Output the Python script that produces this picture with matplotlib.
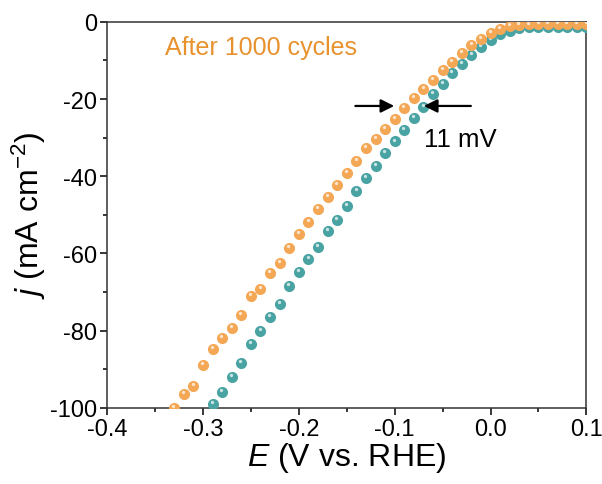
import numpy as np
import matplotlib
matplotlib.use('Agg')
from matplotlib import pyplot as plt
from matplotlib.transforms import offset_copy
from matplotlib.ticker import MultipleLocator

# potentials (V vs. RHE)
e_after = np.round(np.arange(-0.33, 0.101, 0.01), 2)
e_before = np.round(np.arange(-0.29, 0.101, 0.01), 2)

# current densities (mA cm-2)
j_after = [-100.1, -96.4, -94.4, -89.0, -84.7, -81.9, -79.3, -75.9, -71.1, -69.2,
           -65.1, -62.4, -58.6, -54.9, -51.9, -48.4, -45.4, -42.2, -39.2, -36.0,
           -32.7, -30.3, -27.7, -25.1, -22.4, -19.8, -17.4, -15.0, -12.4, -10.3,
           -8.1, -6.1, -4.4, -2.9, -1.8, -1.2, -0.8, -0.7, -0.6, -0.6,
           -0.6, -0.6, -0.6, -0.6]
j_before = [-99.0, -95.9, -91.9, -88.4, -83.4, -80.2, -76.5, -73.1, -68.5, -64.7,
            -61.4, -58.3, -54.3, -51.3, -47.7, -43.8, -40.5, -37.3, -34.0, -31.0,
            -27.9, -24.9, -22.1, -18.7, -16.1, -13.2, -10.9, -8.7, -6.5, -4.7,
            -3.1, -2.3, -1.6, -1.4, -1.3, -1.3, -1.3, -1.3, -1.3, -1.3]

plt.rcParams['font.family'] = ['Liberation Sans', 'DejaVu Sans']
plt.rcParams['axes.unicode_minus'] = False
plt.rcParams['mathtext.fontset'] = 'custom'
plt.rcParams['mathtext.rm'] = 'Liberation Sans'
plt.rcParams['mathtext.it'] = 'Liberation Sans:italic'

fig = plt.figure(figsize=(6.02, 4.85), dpi=100)
ax = fig.add_axes([0.178, 0.157, 0.796, 0.796])

orange = '#F4A755'
teal = '#4AA3A3'

def balls(x, y, color, z):
    ax.plot(x, y, 'o', ms=8, color=color, mec='none', zorder=z)
    # small highlight to mimic the shaded spheres
    tr = offset_copy(ax.transData, fig=fig, x=-0.6, y=1.4, units='points')
    ax.plot(x, y, 'o', ms=2.4, color='white', alpha=0.7, mec='none',
            transform=tr, zorder=z + 0.1)

balls(e_before, j_before, teal, 3)
balls(e_after, j_after, orange, 4)

ax.set_xlim(-0.4, 0.1)
ax.set_ylim(-100, 0)
ax.xaxis.set_major_locator(MultipleLocator(0.1))
ax.xaxis.set_minor_locator(MultipleLocator(0.05))
ax.yaxis.set_major_locator(MultipleLocator(20))
ax.yaxis.set_minor_locator(MultipleLocator(10))
ax.tick_params(which='major', direction='out', length=5, width=1.1, labelsize=17,
               top=False, right=False, pad=2)
ax.tick_params(which='minor', direction='out', length=3, width=1.1,
               top=False, right=False)
for s in ax.spines.values():
    s.set_linewidth(1.1)
    s.set_color('#333333')

ax.set_xlabel(r'$E$ (V vs. RHE)', fontsize=23, labelpad=0)
ax.set_ylabel(r'$j$ (mA cm$^{-2}$)', fontsize=23, labelpad=2)

ax.text(-0.3397, -6.5, 'After 1000 cycles', color='#E8922E', fontsize=18, va='center')

ax.annotate('', xy=(-0.1005, -21.8), xytext=(-0.141, -21.8),
            arrowprops=dict(arrowstyle='-|>', color='black', lw=1.6,
                            mutation_scale=20, shrinkA=0, shrinkB=0), zorder=6)
ax.annotate('', xy=(-0.0695, -21.8), xytext=(-0.0205, -21.8),
            arrowprops=dict(arrowstyle='-|>', color='black', lw=1.6,
                            mutation_scale=20, shrinkA=0, shrinkB=0), zorder=6)
ax.text(-0.0695, -30.3, '11 mV', fontsize=18.5, va='center', ha='left')

fig.savefig('out.png', dpi=100)
